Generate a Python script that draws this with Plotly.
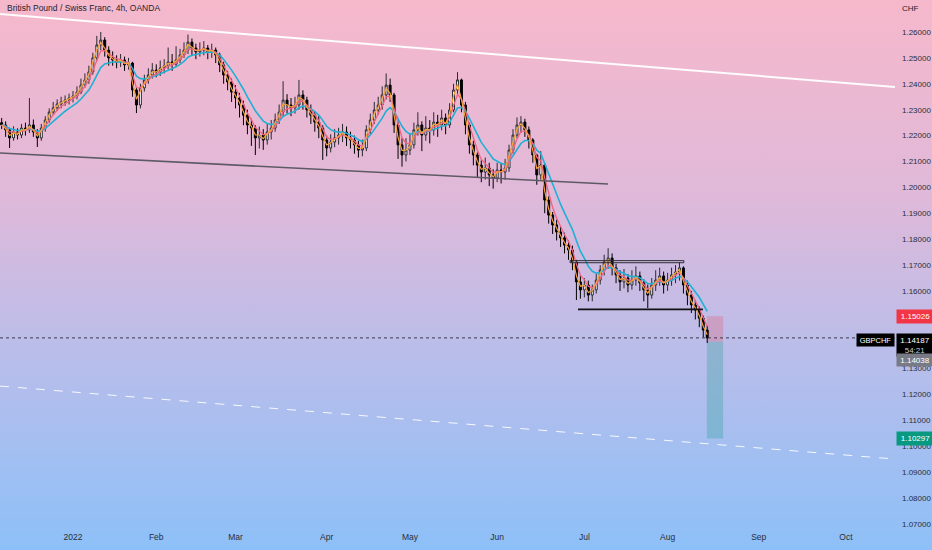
import base64
import plotly.graph_objects as go

# ---------------- data (daily bars, x = trading-day index, 0 = 3 Jan 2022) ----------------
start_idx = -18
first_open = 1.2250
close = [
    1.2241, 1.2222, 1.2191, 1.2214, 1.2202, 1.2229, 1.2222, 1.2241, 1.2214, 1.2191,
    1.2229, 1.2260, 1.2291, 1.2307, 1.2322, 1.2330, 1.2337, 1.2345, 1.2353, 1.2368,
    1.2395, 1.2415, 1.2446, 1.2500, 1.2550, 1.2569, 1.2530, 1.2500, 1.2492, 1.2484,
    1.2492, 1.2473, 1.2480, 1.2376, 1.2318, 1.2384, 1.2415, 1.2434, 1.2453, 1.2446,
    1.2461, 1.2469, 1.2484, 1.2476, 1.2492, 1.2511, 1.2530, 1.2561, 1.2538, 1.2523,
    1.2530, 1.2538, 1.2523, 1.2530, 1.2511, 1.2473, 1.2434, 1.2407, 1.2368, 1.2345,
    1.2318, 1.2279, 1.2241, 1.2229, 1.2191, 1.2202, 1.2183, 1.2214, 1.2229, 1.2260,
    1.2291, 1.2337, 1.2318, 1.2307, 1.2318, 1.2357, 1.2337, 1.2299, 1.2279, 1.2252,
    1.2229, 1.2183, 1.2152, 1.2175, 1.2191, 1.2202, 1.2214, 1.2191, 1.2183, 1.2164,
    1.2144, 1.2152, 1.2222, 1.2260, 1.2299, 1.2318, 1.2357, 1.2395, 1.2357, 1.2241,
    1.2164, 1.2125, 1.2144, 1.2164, 1.2222, 1.2241, 1.2202, 1.2229, 1.2222, 1.2252,
    1.2241, 1.2268, 1.2241, 1.2299, 1.2376, 1.2415, 1.2318, 1.2241, 1.2164, 1.2125,
    1.2086, 1.2059, 1.2075, 1.2048, 1.2036, 1.2067, 1.2059, 1.2075, 1.2144, 1.2202,
    1.2241, 1.2252, 1.2222, 1.2183, 1.2125, 1.2048, 1.2086, 1.1951, 1.1893, 1.1855,
    1.1828, 1.1805, 1.1777, 1.1758, 1.1712, 1.1635, 1.1604, 1.1623, 1.1584, 1.1604,
    1.1642, 1.1681, 1.1712, 1.1727, 1.1689, 1.1662, 1.1635, 1.1650, 1.1623, 1.1642,
    1.1658, 1.1631, 1.1604, 1.1584, 1.1623, 1.1642, 1.1658, 1.1623, 1.1642, 1.1662,
    1.1673, 1.1689, 1.1623, 1.1584, 1.1546, 1.1526, 1.1495, 1.1449, 1.14187,
]
high = [
    1.2268, 1.2255, 1.2230, 1.2236, 1.2228, 1.2245, 1.2250, 1.2345, 1.2262, 1.2225,
    1.2245, 1.2275, 1.2305, 1.2330, 1.2340, 1.2350, 1.2355, 1.2362, 1.2372, 1.2390,
    1.2420, 1.2440, 1.2470, 1.2520, 1.2585, 1.2600, 1.2580, 1.2545, 1.2525, 1.2510,
    1.2515, 1.2505, 1.2500, 1.2485, 1.2385, 1.2400, 1.2435, 1.2460, 1.2480, 1.2475,
    1.2490, 1.2495, 1.2540, 1.2515, 1.2545, 1.2535, 1.2560, 1.2590, 1.2575, 1.2555,
    1.2560, 1.2565, 1.2550, 1.2555, 1.2540, 1.2520, 1.2485, 1.2450, 1.2420, 1.2395,
    1.2365, 1.2335, 1.2300, 1.2265, 1.2240, 1.2235, 1.2225, 1.2245, 1.2260, 1.2285,
    1.2320, 1.2410, 1.2360, 1.2345, 1.2350, 1.2415, 1.2375, 1.2350, 1.2320, 1.2295,
    1.2275, 1.2240, 1.2200, 1.2205, 1.2225, 1.2230, 1.2245, 1.2235, 1.2215, 1.2200,
    1.2180, 1.2185, 1.2240, 1.2285, 1.2330, 1.2350, 1.2390, 1.2440, 1.2420, 1.2365,
    1.2255, 1.2190, 1.2190, 1.2210, 1.2250, 1.2290, 1.2255, 1.2275, 1.2260, 1.2290,
    1.2280, 1.2300, 1.2285, 1.2325, 1.2400, 1.2445, 1.2420, 1.2330, 1.2250, 1.2180,
    1.2135, 1.2105, 1.2115, 1.2095, 1.2070, 1.2095, 1.2095, 1.2110, 1.2165, 1.2225,
    1.2270, 1.2275, 1.2265, 1.2235, 1.2190, 1.2130, 1.2140, 1.2095, 1.1965, 1.1905,
    1.1875, 1.1850, 1.1825, 1.1795, 1.1775, 1.1720, 1.1660, 1.1650, 1.1640, 1.1625,
    1.1665, 1.1700, 1.1740, 1.1765, 1.1745, 1.1705, 1.1680, 1.1685, 1.1665, 1.1680,
    1.1695, 1.1675, 1.1645, 1.1625, 1.1650, 1.1680, 1.1690, 1.1675, 1.1670, 1.1690,
    1.1700, 1.1710, 1.1695, 1.1640, 1.1600, 1.1565, 1.1540, 1.1505, 1.1465,
]
low = [
    1.2225, 1.2195, 1.2152, 1.2180, 1.2185, 1.2190, 1.2200, 1.2210, 1.2195, 1.2156,
    1.2180, 1.2215, 1.2250, 1.2280, 1.2295, 1.2305, 1.2315, 1.2320, 1.2328, 1.2340,
    1.2360, 1.2385, 1.2400, 1.2435, 1.2490, 1.2530, 1.2505, 1.2470, 1.2470, 1.2460,
    1.2465, 1.2450, 1.2455, 1.2350, 1.2287, 1.2305, 1.2370, 1.2400, 1.2420, 1.2425,
    1.2430, 1.2440, 1.2455, 1.2450, 1.2465, 1.2480, 1.2500, 1.2515, 1.2510, 1.2495,
    1.2505, 1.2510, 1.2495, 1.2500, 1.2480, 1.2445, 1.2400, 1.2375, 1.2330, 1.2305,
    1.2270, 1.2240, 1.2205, 1.2160, 1.2125, 1.2150, 1.2145, 1.2165, 1.2185, 1.2215,
    1.2245, 1.2275, 1.2285, 1.2275, 1.2285, 1.2300, 1.2300, 1.2270, 1.2245, 1.2215,
    1.2190, 1.2106, 1.2120, 1.2135, 1.2155, 1.2165, 1.2175, 1.2160, 1.2150, 1.2130,
    1.2115, 1.2120, 1.2140, 1.2205, 1.2245, 1.2280, 1.2300, 1.2340, 1.2330, 1.2210,
    1.2110, 1.2080, 1.2100, 1.2125, 1.2150, 1.2200, 1.2140, 1.2180, 1.2170, 1.2200,
    1.2195, 1.2220, 1.2205, 1.2230, 1.2290, 1.2360, 1.2290, 1.2205, 1.2130, 1.2085,
    1.2040, 1.2020, 1.2030, 1.2005, 1.1995, 1.2020, 1.2015, 1.2030, 1.2060, 1.2130,
    1.2190, 1.2210, 1.2195, 1.2150, 1.2095, 1.2010, 1.2030, 1.1900, 1.1860, 1.1820,
    1.1795, 1.1770, 1.1745, 1.1720, 1.1680, 1.1565, 1.1570, 1.1575, 1.1560, 1.1560,
    1.1590, 1.1625, 1.1660, 1.1685, 1.1660, 1.1630, 1.1600, 1.1610, 1.1595, 1.1605,
    1.1620, 1.1600, 1.1560, 1.1534, 1.1570, 1.1600, 1.1620, 1.1590, 1.1600, 1.1620,
    1.1630, 1.1640, 1.1590, 1.1545, 1.1515, 1.1490, 1.1460, 1.1420, 1.1399,
]
open_ = [first_open] + close[:-1]
x_idx = list(range(start_idx, start_idx + len(close)))

month_idx = [0, 21, 41, 64, 85, 107, 129, 150, 173, 195]
month_text = ["2022", "Feb", "Mar", "Apr", "May", "Jun", "Jul", "Aug", "Sep", "Oct"]
price_ticks = [1.07, 1.08, 1.09, 1.10, 1.11, 1.12, 1.13, 1.14, 1.15, 1.16,
               1.17, 1.18, 1.19, 1.20, 1.21, 1.22, 1.23, 1.24, 1.25, 1.26]

# drawings (x in trading-day index, y in price)
upper_trend = [(-18.42, 1.26695), (207.37, 1.23876)]
lower_trend = [(-18.42, 1.21326), (134.97, 1.20129)]
dashed_trend = [(-18.42, 1.12327), (207.37, 1.09507)]
range_top = [(125.4, 154.1), (1.1709, 1.1717)]
range_bottom = [(127.4, 158.9), 1.1529]
stop_price, entry_price, target_price = 1.15026, 1.14038, 1.10297
pos_x = (159.9, 164.0)
last_price = 1.14187

x_range = [-18.42, 207.37]
y_range = [1.06768, 1.27236]

# EMA smoothing (4h EMA 9 / 21 / 50 expressed per daily bar)
def ema(vals, alpha):
    out = [vals[0]]
    for v in vals[1:]:
        out.append(out[-1] + alpha * (v - out[-1]))
    return out

ema_fast = ema(close, 0.738)
ema_mid = ema(close, 0.4355)
ema_slow = ema(close, 0.213)

# ---------------- figure ----------------
fig = go.Figure()
fig.add_trace(go.Candlestick(
    x=x_idx, open=open_, high=high, low=low, close=close,
    increasing=dict(line=dict(color="#2a2a30", width=1), fillcolor="#ffffff"),
    decreasing=dict(line=dict(color="#000000", width=1), fillcolor="#000000"),
    whiskerwidth=0, hoverinfo="skip",
))
fig.add_trace(go.Scatter(x=x_idx, y=ema_slow, mode="lines",
                         line=dict(color="#1fb0d4", width=1.6), hoverinfo="skip"))
fig.add_trace(go.Scatter(x=x_idx, y=ema_mid, mode="lines",
                         line=dict(color="#f2637f", width=1.3), hoverinfo="skip"))
fig.add_trace(go.Scatter(x=x_idx, y=ema_fast, mode="lines",
                         line=dict(color="#f7a437", width=1.2), hoverinfo="skip"))

shapes = []
# position tool
shapes.append(dict(type="rect", xref="x", yref="y", x0=pos_x[0], x1=pos_x[1],
                   y0=entry_price, y1=stop_price, line=dict(width=0),
                   fillcolor="rgba(242,54,69,0.22)", layer="below"))
shapes.append(dict(type="rect", xref="x", yref="y", x0=pos_x[0], x1=pos_x[1],
                   y0=target_price, y1=entry_price, line=dict(width=0),
                   fillcolor="rgba(8,153,129,0.25)", layer="below"))
# trend lines
shapes.append(dict(type="line", xref="x", yref="y",
                   x0=upper_trend[0][0], y0=upper_trend[0][1],
                   x1=upper_trend[1][0], y1=upper_trend[1][1],
                   line=dict(color="rgba(255,255,255,0.95)", width=2)))
shapes.append(dict(type="line", xref="x", yref="y",
                   x0=lower_trend[0][0], y0=lower_trend[0][1],
                   x1=lower_trend[1][0], y1=lower_trend[1][1],
                   line=dict(color="#5d5a66", width=1.6)))
shapes.append(dict(type="line", xref="x", yref="y",
                   x0=dashed_trend[0][0], y0=dashed_trend[0][1],
                   x1=dashed_trend[1][0], y1=dashed_trend[1][1],
                   line=dict(color="rgba(255,255,255,0.9)", width=1, dash="dash")))
# range box
shapes.append(dict(type="rect", xref="x", yref="y",
                   x0=range_top[0][0], x1=range_top[0][1],
                   y0=range_top[1][0], y1=range_top[1][1],
                   line=dict(color="#2b2b33", width=1)))
shapes.append(dict(type="line", xref="x", yref="y",
                   x0=range_bottom[0][0], x1=range_bottom[0][1],
                   y0=range_bottom[1], y1=range_bottom[1],
                   line=dict(color="#111111", width=1.6)))
# last price line
shapes.append(dict(type="line", xref="paper", yref="y", x0=0, x1=1,
                   y0=last_price, y1=last_price,
                   line=dict(color="#3a3a48", width=1, dash="dot")))

# background gradient
svg = ('<svg xmlns="http://www.w3.org/2000/svg" width="10" height="100" preserveAspectRatio="none">'
       '<defs><linearGradient id="g" x1="0" y1="0" x2="0" y2="1">'
       '<stop offset="0" stop-color="#f6b8cb"/>'
       '<stop offset="0.35" stop-color="#e0b9d9"/>'
       '<stop offset="0.62" stop-color="#bcbde9"/>'
       '<stop offset="1" stop-color="#8dc0f8"/>'
       '</linearGradient></defs><rect width="10" height="100" fill="url(#g)"/></svg>')
bg_uri = "data:image/svg+xml;base64," + base64.b64encode(svg.encode()).decode()

W, H = 932, 550
ML, MR, MT, MB = 0, 37, 0, 20
pw, ph = W - ML - MR, H - MT - MB

FONT = "Liberation Sans, Arial, sans-serif"
annotations = []
lbl_font = dict(family=FONT, size=8, color="#ffffff")
annotations.append(dict(xref="paper", yref="paper", x=0.006, y=1 - 8 / ph,
                        xanchor="left", yanchor="middle", showarrow=False,
                        text="British Pound / Swiss Franc, 4h, OANDA",
                        font=dict(family=FONT, size=8.5, color="#1e222d")))
annotations.append(dict(xref="paper", yref="paper", x=1 + 5 / pw, y=1 - 9 / ph,
                        xanchor="left", yanchor="middle", showarrow=False, text="CHF",
                        font=dict(family=FONT, size=8, color="#1e222d")))
annotations.append(dict(xref="paper", yref="y", x=1, y=stop_price, xanchor="left", yanchor="middle",
                        showarrow=False, text="1.15026", font=lbl_font, bgcolor="#f23645",
                        width=33, borderpad=2, xshift=1))
annotations.append(dict(xref="paper", yref="y", x=1, y=last_price, xanchor="left", yanchor="top",
                        showarrow=False,
                        text="1.14187<br><span style='color:#c8cad2'>54:21</span>",
                        font=lbl_font, bgcolor="#000000", width=33, borderpad=1.5,
                        xshift=1, yshift=5))
annotations.append(dict(xref="paper", yref="y", x=1, y=entry_price, xanchor="left", yanchor="top",
                        showarrow=False, text="1.14038", font=lbl_font, bgcolor="#787b86",
                        width=33, borderpad=1.5, xshift=1, yshift=-11))
annotations.append(dict(xref="paper", yref="y", x=1, y=target_price, xanchor="left", yanchor="middle",
                        showarrow=False, text="1.10297", font=lbl_font, bgcolor="#089981",
                        width=33, borderpad=2, xshift=1))
annotations.append(dict(xref="paper", yref="y", x=1, y=last_price, xanchor="right", yanchor="top",
                        showarrow=False, text="GBPCHF",
                        font=dict(family=FONT, size=7.5, color="#ffffff"),
                        bgcolor="#000000", width=34, borderpad=1.5, yshift=5))

# the axis labels at 1.15 and 1.14 sit under the right-hand price tags
visible_ticks = [v for v in price_ticks if abs(v - 1.15) > 1e-9 and abs(v - 1.14) > 1e-9]

fig.update_layout(
    width=W, height=H,
    margin=dict(l=ML, r=MR, t=MT, b=MB),
    paper_bgcolor="#c8bce6", plot_bgcolor="rgba(0,0,0,0)",
    showlegend=False,
    shapes=shapes,
    annotations=annotations,
    images=[dict(source=bg_uri, xref="paper", yref="paper", x=0, y=1 + MT / ph,
                 sizex=W / pw, sizey=H / ph, xanchor="left", yanchor="top",
                 sizing="stretch", layer="below")],
    xaxis=dict(range=x_range, tickmode="array", tickvals=month_idx, ticktext=month_text,
               showgrid=False, zeroline=False, showline=False, ticks="",
               rangeslider=dict(visible=False),
               tickfont=dict(family=FONT, size=8.5, color="#2a2e39")),
    yaxis=dict(range=y_range, side="right", tickmode="array", tickvals=visible_ticks,
               ticktext=[f"{v:.5f}" for v in visible_ticks],
               showgrid=False, zeroline=False, showline=False, ticks="",
               ticklabelstandoff=6,
               tickfont=dict(family=FONT, size=8, color="#2a2e39")),
)

fig.write_html(
    "out.html",
    config={"displayModeBar": False},
    post_script="document.body.style.margin='0';document.body.style.overflow='hidden';",
)
